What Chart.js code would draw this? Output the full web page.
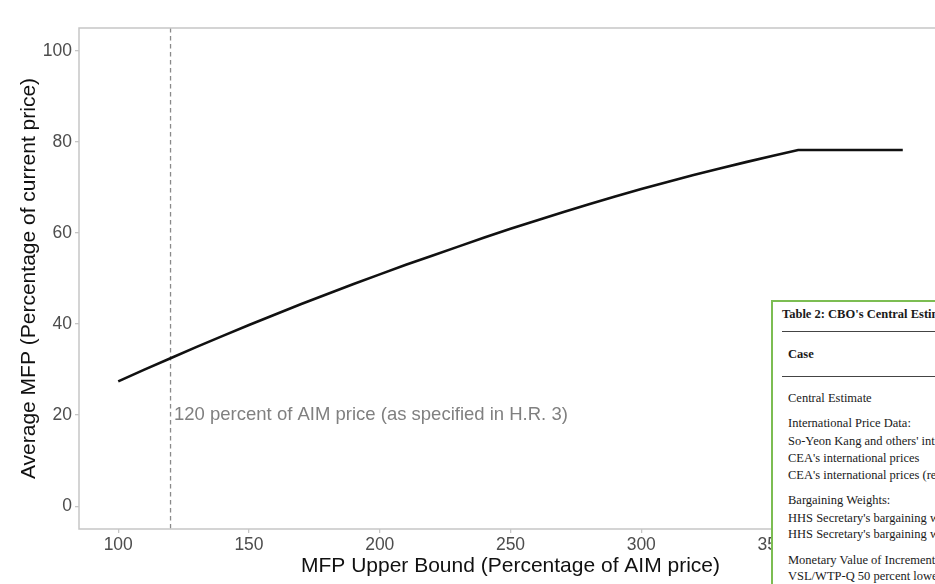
<!DOCTYPE html>
<html>
<head>
<meta charset="utf-8">
<script src="https://cdn.jsdelivr.net/npm/chart.js@4/dist/chart.umd.min.js"></script>
<style>
  html, body { margin: 0; padding: 0; background: #fff; overflow: hidden; width: 935px; height: 584px; }
  #wrap { position: relative; width: 960px; height: 584px; }
  #table2 {
    position: absolute; left: 771px; top: 300px; width: 320px; height: 320px;
    background: #fff; border: 2px solid #7cbd52; box-sizing: border-box;
    font-family: "Liberation Serif", "Times New Roman", serif; color: #1a1a1a; font-size: 12.5px;
  }
  #table2 .row { position: absolute; left: 15px; white-space: nowrap; line-height: 16px; }
  #table2 .hd { font-weight: bold; }
  #table2 .rule { position: absolute; left: 9px; right: 0; height: 0; border-top: 1px solid #444; }
</style>
</head>
<body>
<div id="wrap">
  <canvas id="c" width="960" height="584"></canvas>
  <div id="table2">
    <div class="row hd" style="left:9px; top:4px;">Table 2: CBO's Central Estimate</div>
    <div class="rule" style="top:29px;"></div>
    <div class="row hd" style="top:44px;">Case</div>
    <div class="rule" style="top:74px;"></div>
    <div class="row" style="top:88px;">Central Estimate</div>
    <div class="row" style="top:113px;">International Price Data:</div>
    <div class="row" style="top:131px;">So-Yeon Kang and others' international prices</div>
    <div class="row" style="top:148px;">CEA's international prices</div>
    <div class="row" style="top:165px;">CEA's international prices (revised)</div>
    <div class="row" style="top:190px;">Bargaining Weights:</div>
    <div class="row" style="top:208px;">HHS Secretary's bargaining weight</div>
    <div class="row" style="top:224px;">HHS Secretary's bargaining weight</div>
    <div class="row" style="top:250px;">Monetary Value of Incremental</div>
    <div class="row" style="top:266px;">VSL/WTP-Q 50 percent lower</div>
  </div>
</div>
<script>
// MFP upper bound (percent of AIM price)
const upperBound = [100, 110, 120, 130, 140, 150, 160, 170, 180, 190, 200, 210, 220, 230, 240, 250,
                    260, 270, 280, 290, 300, 310, 320, 330, 340, 350, 360, 370, 380, 390, 400];
// Average MFP (percent of current price)
const avgMFP = [27.4, 30.0, 32.5, 35.0, 37.4, 39.8, 42.1, 44.4, 46.6, 48.8, 50.9, 53.0, 55.0, 57.0, 59.0, 60.9,
                62.75, 64.55, 66.3, 68.0, 69.65, 71.2, 72.7, 74.15, 75.55, 76.9, 78.2, 78.2, 78.2, 78.2, 78.2];
const xTicks = [100, 150, 200, 250, 300, 350, 400];
const yTicks = [0, 20, 40, 60, 80, 100];
const refBound = 120;
const refLabel = '120 percent of AIM price (as specified in H.R. 3)';
const refLabelY = 20;

const SANS = '"Liberation Sans", Arial, Helvetica, sans-serif';
const GRID = '#c6c6c6';

const referencePlugin = {
  id: 'reference',
  beforeDatasetsDraw(chart) {
    const { ctx, chartArea, scales } = chart;
    const x = scales.x.getPixelForValue(refBound);
    ctx.save();
    ctx.strokeStyle = '#8a8a8a';
    ctx.lineWidth = 1.3;
    ctx.setLineDash([4.5, 3.5]);
    ctx.beginPath();
    ctx.moveTo(x, chartArea.top);
    ctx.lineTo(x, chartArea.bottom);
    ctx.stroke();
    ctx.setLineDash([]);
    ctx.fillStyle = '#808080';
    ctx.font = '18.5px ' + SANS;
    ctx.textAlign = 'left';
    ctx.textBaseline = 'middle';
    ctx.fillText(refLabel, x + 3.5, scales.y.getPixelForValue(refLabelY));
    ctx.restore();
  },
  afterDraw(chart) {
    const { ctx, chartArea } = chart;
    ctx.save();
    ctx.strokeStyle = GRID;
    ctx.lineWidth = 1.5;
    ctx.strokeRect(chartArea.left, chartArea.top, chartArea.right - chartArea.left, chartArea.bottom - chartArea.top);
    ctx.restore();
  }
};

new Chart(document.getElementById('c'), {
  type: 'line',
  data: {
    datasets: [{
      data: upperBound.map((v, i) => ({ x: v, y: avgMFP[i] })),
      borderColor: '#111111',
      borderWidth: 2.6,
      pointRadius: 0,
      tension: 0,
      fill: false
    }]
  },
  options: {
    responsive: false,
    animation: false,
    events: [],
    layout: { padding: { left: 0, right: 18, top: 28, bottom: 0 } },
    plugins: { legend: { display: false }, tooltip: { enabled: false } },
    scales: {
      x: {
        type: 'linear', min: 85, max: 415,
        afterBuildTicks: s => { s.ticks = xTicks.map(v => ({ value: v })); },
        afterFit: s => { s.height = 55; },
        border: { display: false },
        grid: { drawOnChartArea: false, drawTicks: true, tickLength: 4, color: GRID, lineWidth: 1.3 },
        ticks: { color: '#4d4d4d', font: { family: SANS, size: 17.5 }, padding: 2, maxRotation: 0 },
        title: { display: true, text: 'MFP Upper Bound (Percentage of AIM price)', color: '#111',
                 font: { family: SANS, size: 21 }, padding: { top: 0, bottom: 5 } }
      },
      y: {
        type: 'linear', min: -5, max: 105,
        afterBuildTicks: s => { s.ticks = yTicks.map(v => ({ value: v })); },
        afterFit: s => { s.width = 79; },
        border: { display: false },
        grid: { drawOnChartArea: false, drawTicks: true, tickLength: 4, color: GRID, lineWidth: 1.3 },
        ticks: { color: '#4d4d4d', font: { family: SANS, size: 17.5 }, padding: 3 },
        title: { display: true, text: 'Average MFP (Percentage of current price)', color: '#111',
                 font: { family: SANS, size: 21 }, padding: { top: 17, bottom: 0 } }
      }
    }
  },
  plugins: [referencePlugin]
});
</script>
</body>
</html>
